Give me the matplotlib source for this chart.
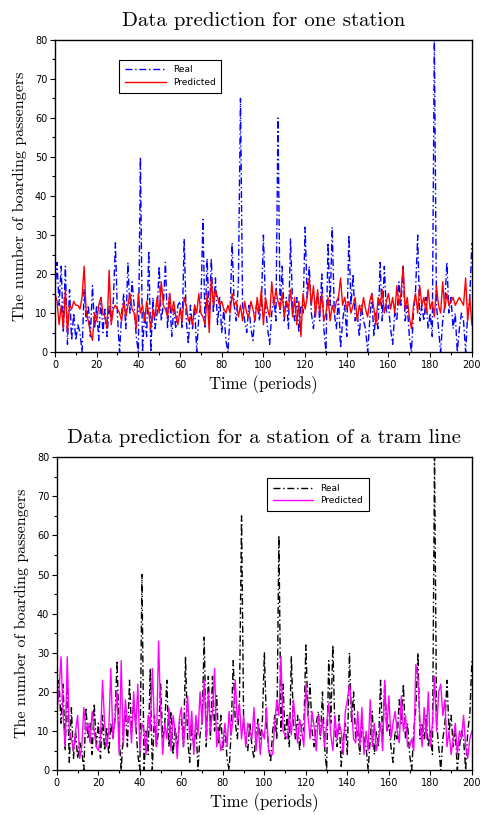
import numpy as np
import matplotlib
matplotlib.use("Agg")
import matplotlib.pyplot as plt
from matplotlib.ticker import MultipleLocator

# Data (periods 0..200)
periods = np.arange(0, 201)

real = [
    15, 23, 12, 22, 5, 22, 2, 16, 3, 10,
    3, 7, 5, 0, 16, 8, 12, 4, 17, 6,
    12, 3, 14, 5, 11, 4, 12, 8, 13, 28,
    9, 0, 10, 15, 6, 23, 10, 18, 12, 4,
    0, 50, 0, 10, 4, 26, 0, 14, 6, 10,
    22, 8, 12, 23, 6, 15, 4, 11, 6, 12,
    13, 6, 29, 8, 2, 12, 6, 12, 0, 9,
    12, 34, 6, 24, 8, 24, 10, 19, 7, 14,
    5, 11, 3, 0, 10, 28, 12, 8, 18, 65,
    12, 8, 5, 12, 6, 3, 10, 13, 8, 12,
    30, 12, 6, 2, 10, 14, 8, 60, 10, 22,
    8, 14, 6, 29, 12, 8, 14, 5, 12, 10,
    32, 14, 22, 10, 6, 12, 15, 8, 20, 6,
    0, 28, 12, 32, 10, 6, 14, 1, 8, 12,
    4, 30, 12, 20, 8, 10, 4, 12, 8, 6,
    0, 8, 15, 4, 10, 6, 23, 8, 22, 10,
    12, 6, 2, 10, 8, 18, 12, 22, 8, 12,
    4, 0, 10, 16, 30, 8, 12, 8, 14, 6,
    10, 4, 80, 12, 6, 0, 8, 12, 23, 10,
    14, 6, 10, 0, 6, 10, 8, 0, 10, 14,
    28,
]

pred_station = [
    15, 13, 7, 12, 6, 16, 5, 12, 11, 13,
    12, 12, 11, 14, 22, 10, 8, 5, 3, 10,
    8, 12, 14, 10, 9, 6, 21, 7, 11, 12,
    11, 10, 8, 13, 9, 12, 15, 11, 10, 6,
    15, 10, 12, 8, 13, 10, 6, 11, 9, 14,
    10, 18, 12, 11, 9, 15, 10, 13, 9, 7,
    11, 8, 14, 12, 8, 9, 7, 12, 10, 15,
    10, 9, 7, 15, 5, 19, 12, 16, 14, 12,
    13, 11, 10, 12, 10, 15, 12, 13, 9, 12,
    8, 13, 10, 9, 13, 11, 8, 14, 10, 16,
    7, 14, 11, 9, 18, 12, 16, 13, 11, 15,
    9, 13, 11, 16, 9, 14, 7, 13, 4, 15,
    11, 14, 19, 12, 17, 9, 16, 10, 15, 8,
    10, 14, 8, 12, 10, 13, 14, 19, 12, 14,
    11, 13, 10, 12, 14, 8, 12, 10, 14, 11,
    9, 13, 15, 11, 7, 14, 12, 16, 10, 13,
    15, 11, 14, 10, 17, 12, 15, 22, 11, 14,
    9, 6, 12, 15, 10, 17, 12, 14, 10, 16,
    11, 13, 9, 17, 12, 10, 18, 11, 15, 12,
    13, 14, 12, 13, 14, 13, 12, 19, 8, 14,
    7,
]

pred_tram = [
    15, 20, 29, 14, 6, 29, 10, 8, 5, 10,
    14, 3, 6, 16, 10, 12, 7, 15, 10, 6,
    5, 8, 23, 12, 6, 10, 26, 8, 13, 20,
    4, 28, 6, 18, 12, 14, 7, 20, 10, 22,
    5, 12, 10, 4, 14, 10, 26, 12, 6, 33,
    15, 4, 12, 8, 16, 5, 14, 10, 3, 13,
    16, 6, 12, 19, 8, 15, 4, 14, 9, 20,
    12, 23, 8, 20, 10, 15, 26, 6, 10, 5,
    7, 12, 6, 15, 9, 14, 23, 12, 17, 8,
    14, 6, 12, 10, 8, 16, 5, 12, 4, 10,
    8, 16, 5, 4, 4, 12, 18, 14, 29, 10,
    9, 8, 14, 9, 18, 12, 7, 13, 10, 6,
    22, 14, 8, 15, 11, 5, 14, 9, 13, 6,
    12, 17, 9, 5, 14, 8, 12, 10, 4, 15,
    18, 22, 16, 8, 7, 15, 6, 16, 4, 10,
    5, 18, 6, 12, 5, 8, 12, 5, 23, 10,
    19, 8, 12, 15, 10, 7, 19, 10, 14, 6,
    6, 8, 5, 27, 24, 12, 6, 16, 8, 20,
    6, 12, 24, 10, 20, 22, 14, 18, 6, 10,
    4, 8, 12, 4, 10, 8, 14, 6, 3, 8,
    10,
]

titles = ["Data prediction for one station",
          "Data prediction for a station of a tram line"]
DASHDOT = (0, (5, 2, 1, 2))
SERIF = "cmr10"


def style_axes(ax, title):
    ax.set_xlim(0, 200)
    ax.set_ylim(0, 80)
    ax.xaxis.set_major_locator(MultipleLocator(20))
    ax.xaxis.set_minor_locator(MultipleLocator(10))
    ax.yaxis.set_major_locator(MultipleLocator(10))
    ax.yaxis.set_minor_locator(MultipleLocator(5))
    ax.tick_params(which="both", direction="out", top=False, right=False,
                   labelsize=7, width=0.8)
    ax.tick_params(which="major", length=3.5, pad=2)
    ax.tick_params(which="minor", length=2)
    for sp in ax.spines.values():
        sp.set_linewidth(1.0)
    ax.set_title(title, family=SERIF, fontsize=15, pad=10)
    ax.set_xlabel("Time (periods)", family=SERIF, fontsize=12, labelpad=4)
    ax.set_ylabel("The number of boarding passengers", family=SERIF,
                  fontsize=11.5, labelpad=6)


fig = plt.figure(figsize=(4.82, 8.15), dpi=100)
ax1 = fig.add_axes([0.114, 0.568, 0.865, 0.383])
ax2 = fig.add_axes([0.118, 0.055, 0.861, 0.384])

ax1.plot(periods, real, color="blue", linestyle=DASHDOT, linewidth=1.0, label="Real")
ax1.plot(periods, pred_station, color="red", linewidth=1.0, label="Predicted")
style_axes(ax1, titles[0])
ax1.legend(loc="upper left", bbox_to_anchor=(0.144, 0.95), fontsize=6.5,
           frameon=True, fancybox=False, edgecolor="black", framealpha=1,
           handlelength=4.5, borderpad=0.6, labelspacing=0.4).get_frame().set_linewidth(0.8)

ax2.plot(periods, real, color="black", linestyle=DASHDOT, linewidth=1.0, label="Real")
ax2.plot(periods, pred_tram, color="#ff00ff", linewidth=1.0, label="Predicted")
style_axes(ax2, titles[1])
ax2.legend(loc="upper left", bbox_to_anchor=(0.496, 0.947), fontsize=6.5,
           frameon=True, fancybox=False, edgecolor="black", framealpha=1,
           handlelength=4.5, borderpad=0.6, labelspacing=0.4).get_frame().set_linewidth(0.8)

fig.savefig("out.png", dpi=100)
